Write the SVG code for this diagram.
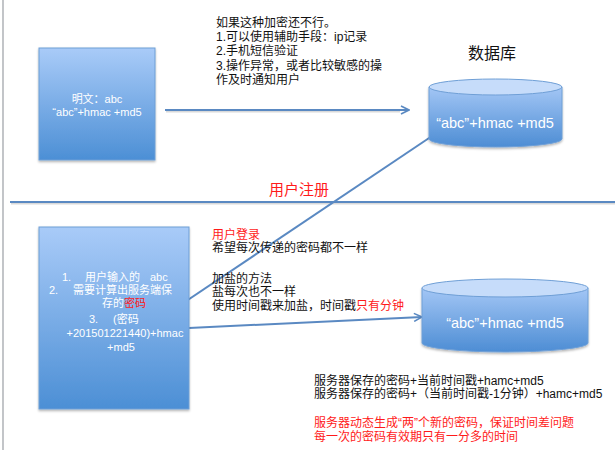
<svg xmlns="http://www.w3.org/2000/svg" width="615" height="469" viewBox="0 0 615 469">
<defs>
<linearGradient id="boxg" x1="0" y1="0" x2="0" y2="1">
<stop offset="0" stop-color="#a9cbf8"/>
<stop offset="1" stop-color="#4c8fd5"/>
</linearGradient>
<linearGradient id="cylg" x1="0" y1="0" x2="0" y2="1">
<stop offset="0" stop-color="#a3c6f5"/>
<stop offset="1" stop-color="#4d8dd4"/>
</linearGradient>
<filter id="sh" x="-10%" y="-10%" width="120%" height="130%">
<feDropShadow dx="0" dy="1.5" stdDeviation="1" flood-color="#000" flood-opacity="0.3"/>
</filter>
<marker id="arr" viewBox="0 0 10 10" refX="9" refY="5" markerWidth="10" markerHeight="10" markerUnits="userSpaceOnUse" orient="auto">
<path d="M1,1 L9,5 L1,9" fill="none" stroke="#5a89c2" stroke-width="1.6"/>
</marker>
</defs>
<style>
.box{fill:url(#boxg);stroke:#6f9fd6;stroke-width:1;filter:url(#sh);}
.cyl{fill:url(#cylg);stroke:#6f9fd6;stroke-width:1;}
.cyltop{fill:#c6dcfa;stroke:#6f9fd6;stroke-width:1;}
.con{stroke:#5a89c2;stroke-width:2;fill:none;}
.shl{stroke:#000;stroke-opacity:0.15;stroke-width:2;fill:none;}
.w{fill:#ffffff;font-family:"Liberation Sans","Noto Sans CJK SC",sans-serif;}
.t{fill:#111;font-family:"Liberation Sans","Noto Sans CJK SC",sans-serif;font-size:12px;}
.r{fill:#ff1a1a;}
</style>
<rect width="615" height="469" fill="#ffffff"/>
<line x1="3" y1="0" x2="3" y2="450" stroke="#9a9ea4" stroke-width="1.2"/>

<g id="connectors">
<line class="shl" x1="11" y1="203.5" x2="615" y2="203.5"/>
<line class="con" x1="10" y1="202" x2="615" y2="202"/>
<line class="shl" x1="166" y1="111.5" x2="400" y2="111.5"/>
<line class="con" x1="165" y1="110" x2="409" y2="110" marker-end="url(#arr)"/>
<line class="con" x1="155" y1="322" x2="444" y2="128" marker-end="url(#arr)"/>
<line class="con" x1="189" y1="328" x2="422" y2="317" marker-end="url(#arr)"/>
</g>

<g id="node-plain">
<rect class="box" x="39" y="48" width="116" height="112"/>
<text class="w" font-size="11" x="97" y="103" text-anchor="middle">明文：abc</text>
<text class="w" font-size="11" x="97" y="116" text-anchor="middle">“abc”+hmac +md5</text>
</g>

<g id="node-db-label">
<text x="492" y="59" text-anchor="middle" style="font-family:'Noto Sans CJK SC',sans-serif;font-size:16px;fill:#111;">数据库</text>
</g>

<g id="node-db1">
<path class="cyl" d="M429,87 L429,139 A66.5,8 0 0 0 562,139 L562,87 Z" filter="url(#sh)"/>
<ellipse class="cyltop" cx="495.5" cy="87" rx="66.5" ry="8"/>
<text class="w" font-size="14.5" x="495" y="128" text-anchor="middle">“abc”+hmac +md5</text>
</g>

<g id="node-notes-top">
<text class="t" x="216" y="27">如果这种加密还不行。</text>
<text class="t" x="216" y="41">1.可以使用辅助手段：ip记录</text>
<text class="t" x="216" y="55">2.手机短信验证</text>
<text class="t" x="216" y="70">3.操作异常，或者比较敏感的操</text>
<text class="t" x="216" y="84">作及时通知用户</text>
</g>

<g id="node-register">
<text x="299" y="195" text-anchor="middle" style="font-family:'Noto Sans CJK SC',sans-serif;font-size:15px;fill:#ff1a1a;">用户注册</text>
</g>

<g id="node-login">
<rect class="box" x="39" y="227" width="150" height="182"/>
<text class="w" font-size="11" x="62" y="281">1.</text>
<text class="w" font-size="11" x="85" y="281">用户输入的</text>
<text class="w" font-size="11" x="150" y="281">abc</text>
<text class="w" font-size="11" x="49" y="294">2.</text>
<text class="w" font-size="11" x="73" y="294">需要计算出服务端保</text>
<text class="w" font-size="11" x="102" y="307">存的<tspan class="r">密码</tspan></text>
<text class="w" font-size="11" x="89" y="323">3.</text>
<text class="w" font-size="11" x="113" y="323">(密码</text>
<text class="w" font-size="11" x="125" y="337" text-anchor="middle">+201501221440)+hmac</text>
<text class="w" font-size="11" x="121" y="351" text-anchor="middle">+md5</text>
</g>

<g id="node-notes-mid">
<text class="t r" x="212" y="239">用户登录</text>
<text class="t" x="212" y="252">希望每次传递的密码都不一样</text>
<text class="t" x="212" y="283">加盐的方法</text>
<text class="t" x="212" y="296">盐每次也不一样</text>
<text class="t" x="212" y="310">使用时间戳来加盐，时间戳<tspan class="r">只有分钟</tspan></text>
</g>

<g id="node-db2">
<path class="cyl" d="M422,288 L422,343 A83,9 0 0 0 588,343 L588,288 Z" filter="url(#sh)"/>
<ellipse class="cyltop" cx="505" cy="288" rx="83" ry="9"/>
<text class="w" font-size="14.5" x="505" y="328" text-anchor="middle">“abc”+hmac +md5</text>
</g>

<g id="node-notes-bottom">
<text class="t" x="314" y="385" font-size="11">服务器保存的密码+当前时间戳+hamc+md5</text>
<text class="t" x="314" y="398" font-size="11">服务器保存的密码+（当前时间戳-1分钟）+hamc+md5</text>
<text class="t r" x="314" y="427" font-size="11.5">服务器动态生成“两”个新的密码，保证时间差问题</text>
<text class="t r" x="314" y="441" font-size="11.5">每一次的密码有效期只有一分多的时间</text>
</g>
</svg>
